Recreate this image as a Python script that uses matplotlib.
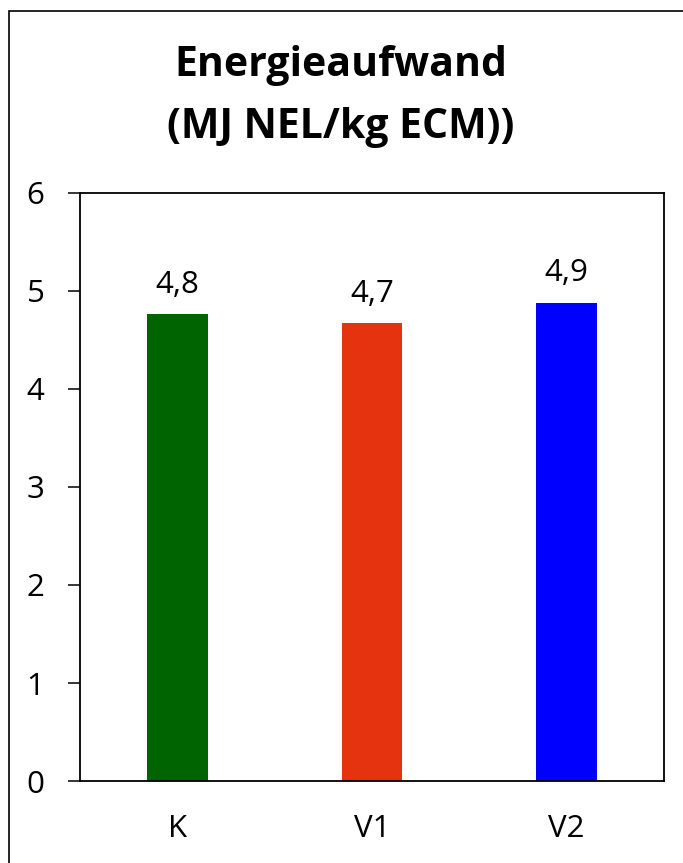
import matplotlib
matplotlib.use('Agg')
import matplotlib.pyplot as plt
from matplotlib.patches import Rectangle

plt.rcParams['font.family'] = ['Open Sans', 'DejaVu Sans']

# Energieaufwand je Variante
groups = ['K', 'V1', 'V2']
energie = [4.76, 4.67, 4.88]
bar_colors = ['#006400', '#E6330F', '#0000FF']
y_ticks = [0, 1, 2, 3, 4, 5, 6]

fig = plt.figure(figsize=(6.83, 8.63), dpi=100)
ax = fig.add_axes([0.1171, 0.0950, 0.8551, 0.6814])

x = range(len(groups))
bars = ax.bar(x, energie, width=0.313, color=bar_colors)
for xi, v in zip(x, energie):
    ax.annotate(f'{v:.1f}'.replace('.', ','), (xi, v), xytext=(0, 15.5),
                textcoords='offset points', ha='center', va='baseline',
                fontsize=22.5)

ax.set_xlim(-0.5, 2.5)
ax.set_ylim(0, 6)
ax.set_yticks(y_ticks)
ax.set_yticklabels([str(t) for t in y_ticks])
ax.set_xticks(list(x))
ax.set_xticklabels(groups)
ax.tick_params(axis='y', direction='out', length=8.5, width=1.1, pad=17, labelsize=22.5)
ax.tick_params(axis='x', length=0, pad=24, labelsize=22.5)
for s in ax.spines.values():
    s.set_linewidth(1.3)
    s.set_color('black')

fig.text(0.4993, 1 - 65 / 863, 'Energieaufwand', ha='center', va='center',
         fontsize=29.5, fontweight='bold')
fig.text(0.4993, 1 - 127 / 863, '(MJ NEL/kg ECM))', ha='center', va='center',
         fontsize=29.5, fontweight='bold')

# Rahmen um das Diagramm
fig.patches.append(Rectangle((9 / 683, -0.1), 1.2, 1.1 - 11 / 863,
                             transform=fig.transFigure, fill=False,
                             edgecolor='black', linewidth=1.2))

fig.savefig('out.png', dpi=100)
